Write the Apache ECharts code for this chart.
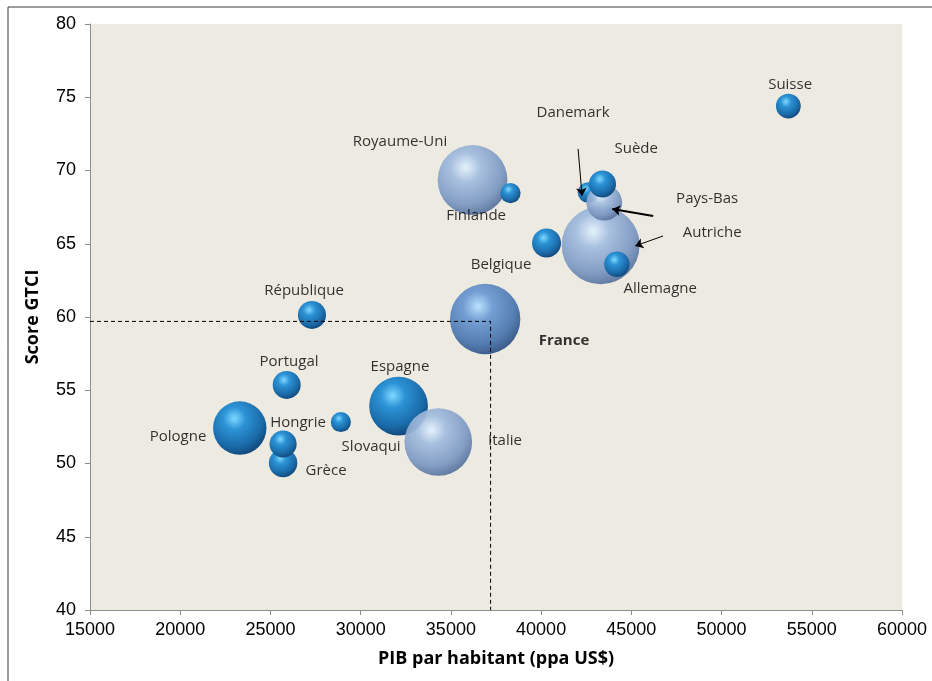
<!DOCTYPE html>
<html>
<head>
<meta charset="utf-8">
<script src="https://cdn.jsdelivr.net/npm/echarts@6/dist/echarts.min.js"></script>
<style>
  html, body { margin: 0; padding: 0; background: #fff; }
  #chart { width: 932px; height: 681px; }
</style>
</head>
<body>
<div id="chart"></div>
<script>
// bubbles: PIB par habitant, score GTCI, population (taille), teinte
const countries = ['Suisse', 'Royaume-Uni', 'Finlande', 'Danemark', 'Allemagne', 'Pays-Bas', 'Suède', 'Autriche',
  'Belgique', 'France', 'République tchèque', 'Portugal', 'Pologne', 'Grèce', 'Hongrie', 'Slovaquie', 'Espagne', 'Italie']
const gdp = [53700, 36200, 38300, 42600, 43300, 43500, 43400, 44200, 40300, 36900, 27300, 25900, 23300, 25700, 25700, 28900, 32100, 34300]
const gtci = [74.4, 69.35, 68.46, 68.5, 64.9, 67.8, 69.08, 63.6, 65.05, 59.86, 60.14, 55.36, 52.42, 50.03, 51.33, 52.83, 53.92, 51.47]
const population = [8.2, 65, 5.5, 5.7, 81, 17, 9.8, 8.6, 11.2, 66, 10.5, 10.4, 38, 10.8, 9.8, 5.4, 46, 61]
const tones = ['dark', 'light', 'dark', 'dark', 'light', 'light', 'dark', 'dark', 'dark', 'mid', 'dark', 'dark', 'dark', 'dark', 'dark', 'dark', 'dark', 'light']

// étiquettes (placées à la main comme dans l'original)
const labelNames = ['Suisse', 'Danemark', 'Royaume-Uni', 'Suède', 'Pays-Bas', 'Finlande', 'Autriche', 'Belgique', 'Allemagne',
  'République', 'France', 'Portugal', 'Espagne', 'Hongrie', 'Pologne', 'Slovaqui', 'Italie', 'Grèce']
const labelX = [53800, 41770, 32180, 45270, 49200, 36400, 49480, 37780, 46600, 26860, 41270, 26030, 32180, 26530, 19880, 30580, 38000, 28080]
const labelY = [75.84, 73.92, 71.95, 71.47, 68.05, 66.89, 65.73, 63.55, 61.91, 61.77, 58.36, 56.93, 56.59, 52.76, 51.81, 51.13, 51.54, 49.49]

// flèches [départ, arrivée]
const arrows = [
  [[42050, 71.47], [42270, 68.26]],
  [[46210, 66.89], [43940, 67.37]],
  [[46760, 65.53], [45210, 64.85]]
]
const arrowWidths = [1, 2, 1]

// repère France
const refLine = [[15000, 59.7], [37200, 59.7], [37200, 40]]

const xTicks = { min: 15000, max: 60000, interval: 5000 }
const yTicks = { min: 40, max: 80, interval: 5 }

const palettes = {
  dark: ['#7fd8ff', '#2c93d6', '#1a6aa8', '#11487a'],
  light: ['#e4f3ff', '#a3bddf', '#7b98c2', '#56719c'],
  mid: ['#b4e0ff', '#6a98d2', '#4874ae', '#2d5083']
}
function sphere (tone) {
  const c = palettes[tone]
  return new echarts.graphic.RadialGradient(0.4, 0.32, 0.7, [
    { offset: 0, color: c[0] },
    { offset: 0.3, color: c[1] },
    { offset: 0.75, color: c[2] },
    { offset: 1, color: c[3] }
  ])
}

const chart = echarts.init(document.getElementById('chart'), null, { renderer: 'canvas' })

const bubbleData = countries.map((name, i) => ({
  name,
  value: [gdp[i], gtci[i], population[i]],
  itemStyle: { color: sphere(tones[i]), opacity: tones[i] === 'dark' ? 1 : 0.92 }
}))

const labelData = labelNames.map((name, i) => ({
  name,
  value: [labelX[i], labelY[i]],
  label: name === 'France' ? { fontWeight: 'bold' } : {}
}))

chart.setOption({
  animation: false,
  backgroundColor: '#fff',
  graphic: [{
    type: 'rect',
    shape: { x: 8, y: 7, width: 1000, height: 800 },
    style: { fill: 'none', stroke: '#3a3a3a', lineWidth: 1 },
    z: 100
  }],
  grid: { left: 90, right: 30, top: 24, bottom: 71, show: true, backgroundColor: '#edeae1', borderWidth: 0 },
  xAxis: {
    type: 'value',
    min: xTicks.min, max: xTicks.max, interval: xTicks.interval,
    name: 'PIB par habitant (ppa US$)',
    nameLocation: 'middle',
    nameGap: 40,
    nameTextStyle: { fontFamily: 'Open Sans', fontWeight: 'bold', fontSize: 18, color: '#000' },
    axisLine: { show: true, onZero: false, lineStyle: { color: '#8c8c8c' } },
    axisTick: { show: true, length: 5, lineStyle: { color: '#8c8c8c' } },
    axisLabel: { fontFamily: 'Liberation Sans', fontSize: 18, color: '#000', margin: 11, formatter: v => String(v) },
    splitLine: { show: false }
  },
  yAxis: {
    type: 'value',
    min: yTicks.min, max: yTicks.max, interval: yTicks.interval,
    name: 'Score GTCI',
    nameLocation: 'middle',
    nameGap: 48,
    nameTextStyle: { fontFamily: 'Open Sans', fontWeight: 'bold', fontSize: 18, color: '#000' },
    axisLine: { show: true, lineStyle: { color: '#8c8c8c' } },
    axisTick: { show: true, length: 5, lineStyle: { color: '#8c8c8c' } },
    axisLabel: { fontFamily: 'Liberation Sans', fontSize: 18, color: '#000', margin: 14 },
    splitLine: { show: false }
  },
  series: [
    {
      type: 'scatter',
      data: bubbleData,
      symbolSize: v => Math.sqrt(v[2]) * 8.66,
      z: 2
    },
    {
      type: 'line',
      data: refLine,
      symbol: 'none',
      lineStyle: { color: '#000', width: 1, type: [4, 3] },
      z: 3,
      silent: true
    },
    {
      type: 'lines',
      coordinateSystem: 'cartesian2d',
      data: arrows.map((a, i) => ({ coords: a, lineStyle: { width: arrowWidths[i] } })),
      symbol: ['none', 'arrow'],
      symbolSize: 8,
      lineStyle: { color: '#000', opacity: 1, curveness: 0 },
      z: 3,
      silent: true
    },
    {
      type: 'scatter',
      data: labelData,
      symbolSize: 0,
      silent: true,
      z: 4,
      label: {
        show: true,
        position: 'inside',
        formatter: p => p.name,
        fontFamily: 'Open Sans',
        fontSize: 15,
        color: '#000'
      }
    }
  ]
})
</script>
</body>
</html>
